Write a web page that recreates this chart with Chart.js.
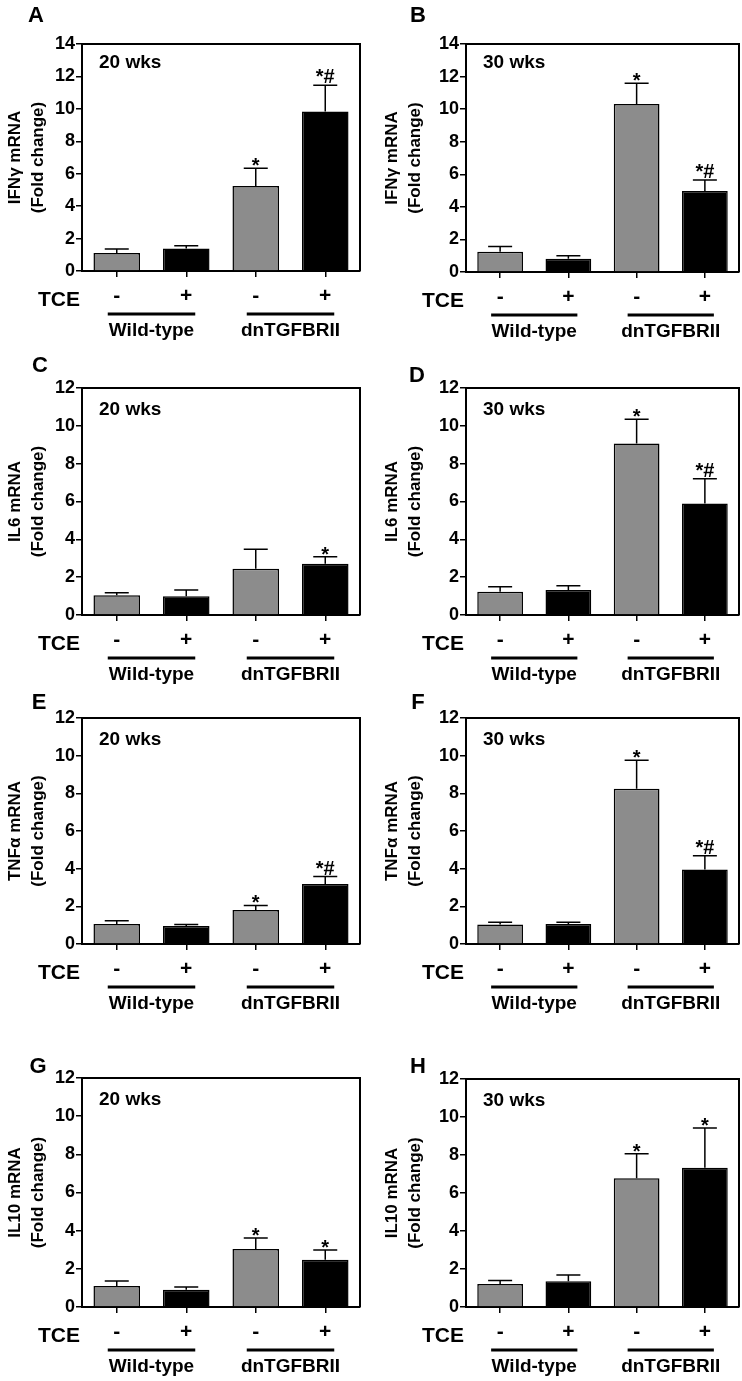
<!DOCTYPE html>
<html lang="en">
<head>
  <meta charset="UTF-8" />
  <title>Cytokine mRNA, Wild-type vs dnTGFBRII</title>
  <script src="https://cdn.jsdelivr.net/npm/chart.js"></script>
  <style>
    body { margin: 0; background: white; }
    #wrap { position: relative; width: 742px; height: 1381px; }
    #wrap canvas { position: absolute; }
  </style>
</head>
<body>
  <div id="wrap"></div>

  <script>
    // categories
    const tceLabels = ['-', '+', '-', '+'];
    const groupNames = ['Wild-type', 'dnTGFBRII'];
    const barColors = ['#8c8c8c', '#000000', '#8c8c8c', '#000000'];

    // IFNγ
    const ifng20Mean = [1.11, 1.38, 5.24, 9.84];
    const ifng20Sem = [0.25, 0.17, 1.09, 1.62];
    const ifng20Sig = ['', '', '*', '*#'];
    const ifng30Mean = [1.25, 0.82, 10.32, 4.97];
    const ifng30Sem = [0.31, 0.18, 1.27, 0.68];
    const ifng30Sig = ['', '', '*', '*#'];
    // IL6
    const il6_20Mean = [1.04, 0.99, 2.45, 2.71];
    const il6_20Sem = [0.14, 0.33, 1.03, 0.37];
    const il6_20Sig = ['', '', '', '*'];
    const il6_30Mean = [1.23, 1.32, 9.06, 5.89];
    const il6_30Sem = [0.27, 0.23, 1.29, 1.31];
    const il6_30Sig = ['', '', '*', '*#'];
    // TNFα
    const tnfa20Mean = [1.06, 0.95, 1.80, 3.19];
    const tnfa20Sem = [0.18, 0.09, 0.25, 0.39];
    const tnfa20Sig = ['', '', '*', '*#'];
    const tnfa30Mean = [1.04, 1.06, 8.24, 3.95];
    const tnfa30Sem = [0.11, 0.09, 1.52, 0.73];
    const tnfa30Sig = ['', '', '*', '*#'];
    // IL10
    const il10_20Mean = [1.10, 0.91, 3.04, 2.48];
    const il10_20Sem = [0.26, 0.14, 0.58, 0.51];
    const il10_20Sig = ['', '', '*', '*'];
    const il10_30Mean = [1.21, 1.35, 6.77, 7.33];
    const il10_30Sem = [0.19, 0.33, 1.30, 2.09];
    const il10_30Sig = ['', '', '*', '*'];

    Chart.defaults.font.family = "'Liberation Sans', Arial, sans-serif";
    Chart.defaults.color = '#000';

    const FONT = "'Liberation Sans', Arial, sans-serif";

    // draws frame, error bars, stars, letter, TCE row and group lines
    const panelDecor = {
      id: 'panelDecor',
      afterDatasetsDraw(chart, args, o) {
        const { ctx, chartArea: a, scales: { x, y } } = chart;
        const vals = chart.data.datasets[0].data;
        ctx.save();
        ctx.strokeStyle = '#000';
        ctx.lineWidth = 2;
        ctx.beginPath();
        ctx.moveTo(a.left, a.top);
        ctx.lineTo(a.right, a.top);
        ctx.lineTo(a.right, a.bottom);
        ctx.stroke();

        ctx.lineWidth = 1.5;
        ctx.fillStyle = '#000';
        ctx.textAlign = 'center';
        ctx.textBaseline = 'alphabetic';
        ctx.font = 'bold 20px ' + FONT;
        vals.forEach((v, i) => {
          const cx = x.getPixelForValue(i);
          const yb = y.getPixelForValue(v);
          const yt = y.getPixelForValue(v + o.sem[i]);
          ctx.beginPath();
          ctx.moveTo(cx, yb);
          ctx.lineTo(cx, yt);
          ctx.moveTo(cx - 12, yt);
          ctx.lineTo(cx + 12, yt);
          ctx.stroke();
          const s = o.sig[i];
          if (s) ctx.fillText(s, cx, s === '*' ? yt + 4 : yt - 2);
        });
        ctx.restore();
      },
      afterDraw(chart, args, o) {
        const { ctx, chartArea: a, scales: { x } } = chart;
        ctx.save();
        ctx.fillStyle = '#000';
        ctx.strokeStyle = '#000';

        ctx.font = 'bold 22px ' + FONT;
        ctx.textAlign = 'center';
        ctx.textBaseline = 'middle';
        ctx.fillText(o.letter, o.letterX, o.letterY);

        ctx.font = 'bold 19px ' + FONT;
        ctx.textAlign = 'left';
        ctx.fillText(o.time, a.left + 17, a.top + o.timeDy);

        ctx.font = 'bold 21px ' + FONT;
        ctx.textAlign = 'right';
        ctx.textBaseline = 'alphabetic';
        ctx.fillText('TCE', a.left - 2, a.bottom + 35);

        ctx.lineWidth = 3;
        ctx.font = 'bold 19px ' + FONT;
        ctx.textAlign = 'center';
        groupNames.forEach((g, k) => {
          const x1 = x.getPixelForValue(2 * k) - 9;
          const x2 = x.getPixelForValue(2 * k + 1) + 9;
          ctx.beginPath();
          ctx.moveTo(x1, a.bottom + 43);
          ctx.lineTo(x2, a.bottom + 43);
          ctx.stroke();
          ctx.fillText(g, (x1 + x2) / 2, a.bottom + 65);
        });
        ctx.restore();
      }
    };

    function makePanel(p) {
      const canvas = document.createElement('canvas');
      canvas.width = 371;
      canvas.height = p.h;
      canvas.style.left = p.x0 + 'px';
      canvas.style.top = p.y0 + 'px';
      document.getElementById('wrap').appendChild(canvas);
      const xHeight = 40;
      const yWidth = p.L - p.x0;

      return new Chart(canvas.getContext('2d'), {
        type: 'bar',
        data: {
          labels: tceLabels,
          datasets: [{
            data: p.mean,
            backgroundColor: barColors,
            borderColor: '#000',
            borderWidth: 1.5,
            borderSkipped: 'bottom',
            barPercentage: 0.67,
            categoryPercentage: 1
          }]
        },
        options: {
          responsive: false,
          animation: false,
          devicePixelRatio: 1,
          layout: {
            autoPadding: false,
            padding: { left: 0, top: p.T - p.y0, right: p.x0 + 371 - p.R, bottom: p.y0 + p.h - p.B - xHeight }
          },
          plugins: {
            legend: { display: false },
            tooltip: { enabled: false },
            panelDecor: {
              sem: p.sem, sig: p.sig, letter: p.letter,
              letterX: p.lx - p.x0, letterY: p.ly - p.y0,
              time: p.time, timeDy: p.timeDy
            }
          },
          scales: {
            x: {
              offset: true,
              grid: { offset: false, drawOnChartArea: false, tickLength: 6, color: '#000', lineWidth: 1.5 },
              border: { color: '#000', width: 2 },
              ticks: { color: '#000', font: { size: 21, weight: 'bold' }, padding: 7, maxRotation: 0, autoSkip: false },
              afterFit: s => { s.height = xHeight; }
            },
            y: {
              min: 0,
              max: p.ymax,
              ticks: { stepSize: 2, color: '#000', font: { size: 18, weight: 'bold' }, padding: 1 },
              grid: { drawOnChartArea: false, tickLength: 6, color: '#000', lineWidth: 1.5 },
              border: { color: '#000', width: 2 },
              title: {
                display: true,
                text: [p.ytitle, '(Fold change)'],
                color: '#000',
                font: { size: 17, weight: 'bold', lineHeight: 1.35 },
                padding: { top: p.tpad, bottom: 0 }
              },
              afterFit: s => { s.width = yWidth; }
            }
          }
        },
        plugins: [panelDecor]
      });
    }

    // canvases overlap a little so group labels are never cut
    const rows = [{ y0: 0, h: 350 }, { y0: 340, h: 350 }, { y0: 675, h: 355 }, { y0: 1025, h: 356 }];

    const panels = [
      { letter: 'A', row: 0, side: 0, T: 44, B: 271, ymax: 14, ytitle: 'IFNγ mRNA', time: '20 wks', mean: ifng20Mean, sem: ifng20Sem, sig: ifng20Sig, lx: 36, ly: 16 },
      { letter: 'B', row: 0, side: 1, T: 44, B: 272, ymax: 14, ytitle: 'IFNγ mRNA', time: '30 wks', mean: ifng30Mean, sem: ifng30Sem, sig: ifng30Sig, lx: 418, ly: 16 },
      { letter: 'C', row: 1, side: 0, T: 388, B: 615, ymax: 12, ytitle: 'IL6 mRNA', time: '20 wks', mean: il6_20Mean, sem: il6_20Sem, sig: il6_20Sig, lx: 40, ly: 366 },
      { letter: 'D', row: 1, side: 1, T: 388, B: 615, ymax: 12, ytitle: 'IL6 mRNA', time: '30 wks', mean: il6_30Mean, sem: il6_30Sem, sig: il6_30Sig, lx: 417, ly: 376 },
      { letter: 'E', row: 2, side: 0, T: 718, B: 944, ymax: 12, ytitle: 'TNFα mRNA', time: '20 wks', mean: tnfa20Mean, sem: tnfa20Sem, sig: tnfa20Sig, lx: 39, ly: 703 },
      { letter: 'F', row: 2, side: 1, T: 718, B: 944, ymax: 12, ytitle: 'TNFα mRNA', time: '30 wks', mean: tnfa30Mean, sem: tnfa30Sem, sig: tnfa30Sig, lx: 418, ly: 703 },
      { letter: 'G', row: 3, side: 0, T: 1078, B: 1307, ymax: 12, ytitle: 'IL10 mRNA', time: '20 wks', mean: il10_20Mean, sem: il10_20Sem, sig: il10_20Sig, lx: 38, ly: 1067 },
      { letter: 'H', row: 3, side: 1, T: 1079, B: 1307, ymax: 12, ytitle: 'IL10 mRNA', time: '30 wks', mean: il10_30Mean, sem: il10_30Sem, sig: il10_30Sig, lx: 418, ly: 1067 }
    ];

    panels.forEach(p => {
      const r = rows[p.row];
      p.y0 = r.y0;
      p.h = r.h;
      p.x0 = p.side ? 371 : 0;
      p.L = p.side ? 466 : 82;
      p.R = p.side ? 739 : 360;
      p.tpad = p.side ? 10 : 4;
      p.timeDy = p.row === 0 ? 19 : 22;
      makePanel(p);
    });
  </script>
</body>
</html>
